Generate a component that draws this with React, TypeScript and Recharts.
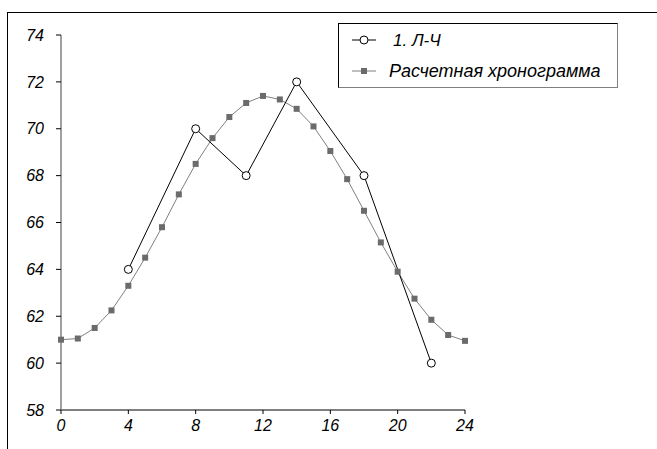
import React from 'react';
import { LineChart, Line, XAxis, YAxis } from 'recharts';

const hours = [0, 1, 2, 3, 4, 5, 6, 7, 8, 9, 10, 11, 12, 13, 14, 15, 16, 17, 18, 19, 20, 21, 22, 23, 24];
const calculated = [
  61.0, 61.05, 61.5, 62.25, 63.3, 64.5, 65.8, 67.2, 68.5, 69.6, 70.5, 71.1, 71.4,
  71.25, 70.85, 70.1, 69.05, 67.85, 66.5, 65.15, 63.9, 62.75, 61.85, 61.2, 60.95
];
const measuredHours = [4, 8, 11, 14, 18, 22];
const measured = [64, 70, 68, 72, 68, 60];
const xTicks = [0, 4, 8, 12, 16, 20, 24];
const yTicks = [58, 60, 62, 64, 66, 68, 70, 72, 74];

const data = hours.map((h, i) => {
  const k = measuredHours.indexOf(h);
  return { hour: h, calc: calculated[i], fact: k >= 0 ? measured[k] : null };
});

const font = '"Liberation Sans", Arial, sans-serif';

const SquareDot = (props: any) => {
  const { cx, cy } = props;
  if (cx == null || cy == null) return null;
  return <rect x={cx - 3} y={cy - 3} width={6} height={6} fill="#6b6b6b" />;
};

// legend drawn by hand, as a framed box over the plot
const LegendBox = () => (
  <div
    style={{
      position: 'absolute',
      left: 338,
      top: 23,
      width: 278,
      height: 63,
      border: '1px solid #000',
      borderRightColor: '#808080',
      borderBottomColor: '#808080',
      background: '#fff'
    }}
  >
    <svg width={278} height={63} style={{ position: 'absolute', left: 0, top: 0 }}>
      <line x1={13} y1={16} x2={37} y2={16} stroke="#000" strokeWidth={1} />
      <circle cx={25} cy={16} r={4} fill="#fff" stroke="#000" strokeWidth={1} />
      <text x={54} y={22} fontFamily={font} fontStyle="italic" fontSize={17} fill="#000">1. Л-Ч</text>
      <line x1={13} y1={47} x2={37} y2={47} stroke="#808080" strokeWidth={1} />
      <rect x={22} y={44} width={6} height={6} fill="#6b6b6b" />
      <text x={50} y={53} fontFamily={font} fontStyle="italic" fontSize={18} fill="#000">Расчетная хронограмма</text>
    </svg>
  </div>
);

export default function App() {
  return (
    <div style={{ position: 'absolute', left: 0, top: 0, width: 657, height: 449, background: '#fff' }}>
      <div
        style={{
          position: 'absolute',
          left: 7,
          top: 12,
          width: 650,
          height: 437,
          borderTop: '1px solid #000',
          borderLeft: '1px solid #000'
        }}
      />
      <LineChart
        width={657}
        height={449}
        data={data}
        margin={{ top: 35, right: 192, bottom: 0, left: 8 }}
        style={{ position: 'absolute', left: 0, top: 0 }}
      >
        <XAxis
          dataKey="hour"
          type="number"
          domain={[0, 24]}
          ticks={xTicks}
          height={39}
          stroke="#000"
          tickSize={4}
          tickMargin={6}
          tick={{ fill: '#000', fontSize: 16, fontStyle: 'italic', fontFamily: font }}
        />
        <YAxis
          domain={[58, 74]}
          ticks={yTicks}
          width={53}
          stroke="#808080"
          strokeWidth={1.5}
          tickSize={5}
          tickMargin={12}
          tickLine={{ stroke: '#000', strokeWidth: 1 }}
          tick={{ fill: '#000', fontSize: 16, fontStyle: 'italic', fontFamily: font }}
        />
        <Line
          dataKey="calc"
          stroke="#808080"
          strokeWidth={1}
          dot={<SquareDot />}
          isAnimationActive={false}
          type="linear"
        />
        <Line
          dataKey="fact"
          stroke="#000"
          strokeWidth={1}
          connectNulls
          dot={{ r: 4, fill: '#fff', stroke: '#000', strokeWidth: 1 }}
          isAnimationActive={false}
          type="linear"
        />
      </LineChart>
      <LegendBox />
    </div>
  );
}
